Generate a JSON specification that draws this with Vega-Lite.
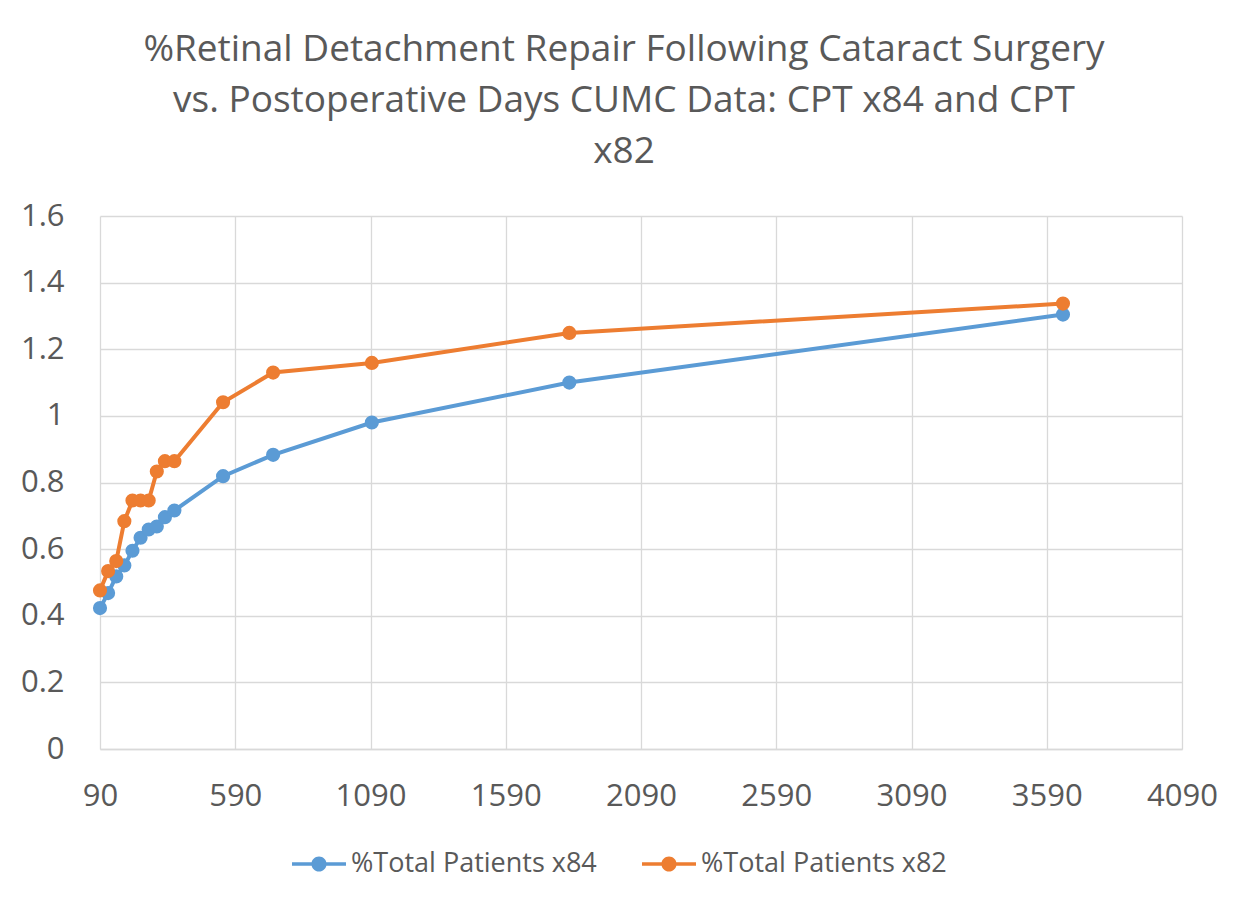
{
  "$schema": "https://vega.github.io/schema/vega-lite/v6.json",
  "width": 1082,
  "height": 533,
  "autosize": {"type": "none"},
  "padding": {"left": 100, "top": 216, "right": 65, "bottom": 158},
  "background": "white",
  "config": {
    "font": "Open Sans",
    "view": {"stroke": null}
  },
  "title": {
    "text": ["%Retinal Detachment Repair Following Cataract Surgery", "vs. Postoperative Days  CUMC Data: CPT x84 and CPT", "x82"],
    "fontSize": 37,
    "font": "Open Sans",
    "fontWeight": "normal",
    "color": "#595959",
    "lineHeight": 51,
    "anchor": "middle",
    "baseline": "alphabetic",
    "dx": -17,
    "offset": 0
  },
  "data": {
    "values": [
      {"days": 90, "pct": 0.423, "series": "%Total Patients x84"},
      {"days": 120, "pct": 0.468, "series": "%Total Patients x84"},
      {"days": 150, "pct": 0.518, "series": "%Total Patients x84"},
      {"days": 180, "pct": 0.551, "series": "%Total Patients x84"},
      {"days": 210, "pct": 0.595, "series": "%Total Patients x84"},
      {"days": 240, "pct": 0.634, "series": "%Total Patients x84"},
      {"days": 270, "pct": 0.659, "series": "%Total Patients x84"},
      {"days": 300, "pct": 0.668, "series": "%Total Patients x84"},
      {"days": 330, "pct": 0.696, "series": "%Total Patients x84"},
      {"days": 365, "pct": 0.716, "series": "%Total Patients x84"},
      {"days": 545, "pct": 0.819, "series": "%Total Patients x84"},
      {"days": 730, "pct": 0.883, "series": "%Total Patients x84"},
      {"days": 1095, "pct": 0.98, "series": "%Total Patients x84"},
      {"days": 1825, "pct": 1.1, "series": "%Total Patients x84"},
      {"days": 3650, "pct": 1.304, "series": "%Total Patients x84"},
      {"days": 90, "pct": 0.476, "series": "%Total Patients x82"},
      {"days": 120, "pct": 0.534, "series": "%Total Patients x82"},
      {"days": 150, "pct": 0.564, "series": "%Total Patients x82"},
      {"days": 180, "pct": 0.684, "series": "%Total Patients x82"},
      {"days": 210, "pct": 0.746, "series": "%Total Patients x82"},
      {"days": 240, "pct": 0.746, "series": "%Total Patients x82"},
      {"days": 270, "pct": 0.746, "series": "%Total Patients x82"},
      {"days": 300, "pct": 0.833, "series": "%Total Patients x82"},
      {"days": 330, "pct": 0.864, "series": "%Total Patients x82"},
      {"days": 365, "pct": 0.864, "series": "%Total Patients x82"},
      {"days": 545, "pct": 1.041, "series": "%Total Patients x82"},
      {"days": 730, "pct": 1.13, "series": "%Total Patients x82"},
      {"days": 1095, "pct": 1.159, "series": "%Total Patients x82"},
      {"days": 1825, "pct": 1.249, "series": "%Total Patients x82"},
      {"days": 3650, "pct": 1.337, "series": "%Total Patients x82"}
    ]
  },
  "encoding": {
    "x": {
      "field": "days",
      "type": "quantitative",
      "scale": {"domain": [90, 4090], "nice": false, "zero": false},
      "axis": {
        "title": null,
        "values": [90, 590, 1090, 1590, 2090, 2590, 3090, 3590, 4090],
        "format": "d",
        "labelFontSize": 31,
        "labelColor": "#595959",
        "labelPadding": 32,
        "ticks": false,
        "grid": true,
        "gridColor": "#d9d9d9",
        "gridWidth": 1.3,
        "domain": true,
        "domainColor": "#d9d9d9",
        "domainWidth": 1.3,
        "labelFlush": false
      }
    },
    "y": {
      "field": "pct",
      "type": "quantitative",
      "scale": {"domain": [0, 1.6], "nice": false},
      "axis": {
        "title": null,
        "values": [0, 0.2, 0.4, 0.6, 0.8, 1, 1.2, 1.4, 1.6],
        "format": "~g",
        "labelFontSize": 31,
        "labelColor": "#595959",
        "labelPadding": 36,
        "ticks": false,
        "grid": true,
        "gridColor": "#d9d9d9",
        "gridWidth": 1.3,
        "domain": false,
        "labelFlush": false
      }
    },
    "color": {
      "field": "series",
      "type": "nominal",
      "scale": {
        "domain": ["%Total Patients x84", "%Total Patients x82"],
        "range": ["#5B9BD5", "#ED7D31"]
      },
      "legend": {
        "title": null,
        "orient": "none",
        "direction": "horizontal",
        "legendX": 192,
        "legendY": 621,
        "labelFontSize": 27,
        "labelColor": "#595959",
        "labelLimit": 400,
        "labelOffset": 5,
        "columnPadding": 45,
        "symbolType": "M-1,-0.065L1,-0.065L1,0.065L-1,0.065Z M-0.28,0A0.28,0.28,0,1,1,0.28,0A0.28,0.28,0,1,1,-0.28,0Z",
        "symbolSize": 2916,
        "symbolStrokeWidth": 0
      }
    }
  },
  "layer": [
    {
      "mark": {"type": "line", "strokeWidth": 4},
      "encoding": {"detail": {"field": "series"}}
    },
    {
      "mark": {"type": "point", "filled": true, "size": 200, "opacity": 1}
    }
  ]
}
